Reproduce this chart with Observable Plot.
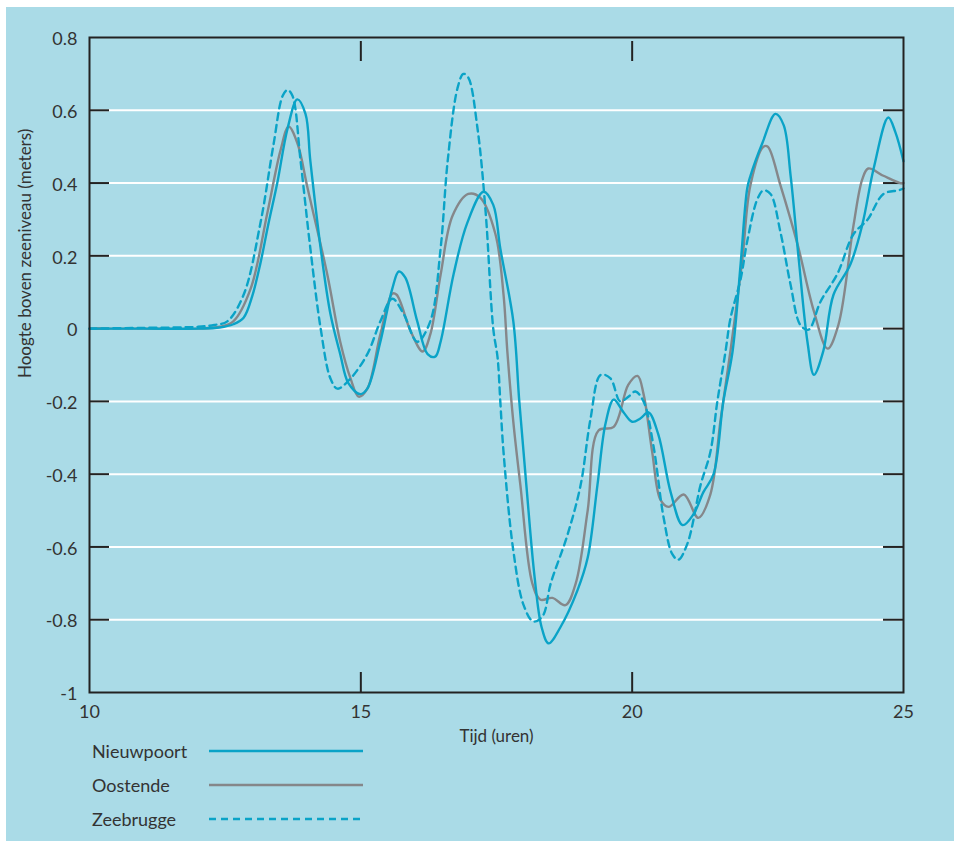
<!DOCTYPE html>
<html>
<head>
<meta charset="utf-8">
<script src="https://cdn.jsdelivr.net/npm/d3@7"></script>
<script src="https://cdn.jsdelivr.net/npm/@observablehq/plot@0.6"></script>
<style>
  html, body { margin: 0; padding: 0; background: #ffffff; }
  #wrap { position: absolute; left: 6px; top: 7px; width: 948px; height: 834px; background: #aadbe7; overflow: hidden; font-family: Lato, "Liberation Sans", sans-serif; }
  #chart svg { display: block; }
  #legend { margin-top: -18px; margin-left: 86px; }
  .row { display: flex; align-items: center; height: 34px; }
  .row span { width: 117px; font-size: 18px; color: #333; }
  .row svg { display: block; }
</style>
</head>
<body>
<div id="wrap">
  <div id="chart"></div>
  <div id="legend"></div>
</div>
<script>
// ---- data ----
const xTicks = [10, 15, 20, 25];
const xInnerTicks = [15, 20];
const yTicks = [-1, -0.8, -0.6, -0.4, -0.2, 0, 0.2, 0.4, 0.6, 0.8];
const gridValues = [-0.8, -0.6, -0.4, -0.2, 0, 0.2, 0.4, 0.6];
const seriesNames = ["Nieuwpoort", "Oostende", "Zeebrugge"];
const xLabel = "Tijd (uren)";
const yLabel = "Hoogte boven zeeniveau (meters)";

const nieuwpoortT = [10, 11, 12, 12.4, 12.65, 12.84, 13.0, 13.15, 13.3, 13.46, 13.65, 13.83, 13.98, 14.07, 14.26, 14.44, 14.62, 14.77, 14.99, 15.12, 15.36, 15.58, 15.70, 15.82, 16.04, 16.23, 16.37, 16.47, 16.71, 16.96, 17.26, 17.44, 17.57, 17.81, 17.92, 18.05, 18.2, 18.33, 18.46, 18.68, 18.99, 19.18, 19.36, 19.51, 19.66, 19.84, 20.0, 20.15, 20.30, 20.48, 20.71, 20.93, 21.13, 21.31, 21.50, 21.68, 21.85, 22.0, 22.12, 22.18, 22.40, 22.64, 22.79, 22.92, 23.07, 23.23, 23.35, 23.52, 23.71, 24.02, 24.24, 24.45, 24.72, 24.85, 25.0];
const nieuwpoortH = [0, 0, 0, 0.003, 0.012, 0.03, 0.09, 0.18, 0.29, 0.40, 0.55, 0.63, 0.59, 0.46, 0.22, 0.04, -0.07, -0.15, -0.18, -0.165, -0.036, 0.11, 0.157, 0.14, 0.02, -0.07, -0.077, -0.036, 0.15, 0.29, 0.376, 0.34, 0.22, 0.02, -0.2, -0.43, -0.68, -0.82, -0.865, -0.82, -0.72, -0.63, -0.43, -0.26, -0.195, -0.23, -0.256, -0.247, -0.23, -0.29, -0.45, -0.54, -0.51, -0.45, -0.40, -0.2, -0.063, 0.18, 0.385, 0.42, 0.51, 0.59, 0.56, 0.42, 0.19, -0.036, -0.127, -0.063, 0.093, 0.176, 0.285, 0.44, 0.58, 0.54, 0.46];

const oostendeT = [10, 11, 12, 12.4, 12.65, 12.97, 13.28, 13.52, 13.67, 13.83, 14.02, 14.38, 14.62, 14.81, 14.96, 15.12, 15.36, 15.58, 15.66, 15.92, 16.14, 16.28, 16.47, 16.69, 16.98, 17.2, 17.48, 17.63, 17.70, 17.81, 17.94, 18.16, 18.31, 18.53, 18.77, 18.96, 19.18, 19.38, 19.66, 19.93, 20.10, 20.21, 20.37, 20.52, 20.67, 20.95, 21.22, 21.44, 21.63, 21.81, 22.03, 22.18, 22.42, 22.5, 22.73, 23.05, 23.35, 23.60, 23.80, 24.08, 24.24, 24.35, 24.63, 24.94, 25.0];
const oostendeH = [0, 0, 0, 0.005, 0.02, 0.11, 0.32, 0.49, 0.555, 0.51, 0.385, 0.15, -0.036, -0.137, -0.187, -0.165, -0.016, 0.096, 0.093, -0.008, -0.063, -0.016, 0.148, 0.31, 0.37, 0.36, 0.26, 0.093, -0.063, -0.256, -0.43, -0.70, -0.745, -0.74, -0.76, -0.70, -0.50, -0.28, -0.27, -0.154, -0.13, -0.18, -0.34, -0.47, -0.49, -0.456, -0.52, -0.456, -0.25, -0.063, 0.19, 0.395, 0.50, 0.50, 0.395, 0.23, 0.047, -0.055, 0.01, 0.285, 0.41, 0.44, 0.42, 0.40, 0.40];

const zeebruggeT = [10, 11, 12, 12.3, 12.54, 12.84, 13.15, 13.39, 13.56, 13.65, 13.74, 13.89, 14.07, 14.26, 14.44, 14.57, 14.81, 15.12, 15.36, 15.58, 15.79, 16.04, 16.28, 16.47, 16.60, 16.78, 16.89, 16.98, 17.15, 17.30, 17.44, 17.52, 17.57, 17.63, 17.81, 18.0, 18.18, 18.35, 18.5, 18.81, 19.05, 19.23, 19.42, 19.60, 19.78, 19.93, 20.06, 20.21, 20.39, 20.58, 20.74, 20.85, 21.02, 21.26, 21.44, 21.57, 21.72, 21.81, 22.0, 22.12, 22.31, 22.42, 22.55, 22.73, 22.92, 23.10, 23.25, 23.47, 23.78, 24.08, 24.34, 24.63, 24.91, 25.0];
const zeebruggeH = [0, 0.002, 0.005, 0.01, 0.02, 0.093, 0.29, 0.505, 0.64, 0.656, 0.64, 0.46, 0.22, 0, -0.137, -0.165, -0.137, -0.07, 0.02, 0.082, 0.04, -0.036, 0.02, 0.22, 0.46, 0.66, 0.70, 0.69, 0.55, 0.32, 0, -0.08, -0.2, -0.34, -0.61, -0.76, -0.805, -0.79, -0.70, -0.566, -0.43, -0.25, -0.127, -0.137, -0.2, -0.187, -0.173, -0.2, -0.32, -0.52, -0.62, -0.635, -0.59, -0.43, -0.34, -0.2, -0.063, 0.027, 0.137, 0.24, 0.357, 0.38, 0.37, 0.267, 0.12, 0.01, -0.003, 0.074, 0.15, 0.26, 0.30, 0.37, 0.38, 0.385];

// ---- styling ----
const BLUE = "#0aa3c7";
const GRAY = "#85878a";
const INK = "#222";
const TXT = "#333";
const seriesStyles = [
  {stroke: BLUE, dash: null},
  {stroke: GRAY, dash: null},
  {stroke: BLUE, dash: "7,5"}
];

const W = 948, H = 745, mL = 83, mR = 51, mT = 30, mB = 60;
const pw = W - mL - mR, ph = H - mT - mB;

const nieuwpoort = d3.zip(nieuwpoortT, nieuwpoortH);
const oostende = d3.zip(oostendeT, oostendeH);
const zeebrugge = d3.zip(zeebruggeT, zeebruggeH);

const lineOpts = (st) => ({
  x: d => d[0], y: d => d[1],
  stroke: st.stroke, strokeWidth: 2.4,
  strokeDasharray: st.dash || undefined,
  curve: "catmull-rom"
});

const chart = Plot.plot({
  width: W, height: H,
  marginLeft: mL, marginRight: mR, marginTop: mT, marginBottom: mB,
  style: {background: "none", overflow: "visible", fontFamily: "Lato, 'Liberation Sans', sans-serif", color: TXT},
  x: {domain: [10, 25]},
  y: {domain: [-1, 0.8]},
  marks: [
    Plot.ruleY(gridValues, {y: d => d, stroke: "#ffffff", strokeWidth: 2}),
    Plot.tickY(gridValues, {y: d => d, stroke: INK, strokeWidth: 2, insetRight: pw - 20}),
    Plot.tickY(gridValues, {y: d => d, stroke: INK, strokeWidth: 2, insetLeft: pw - 20}),
    Plot.tickX(xInnerTicks, {x: d => d, stroke: INK, strokeWidth: 2, insetTop: 4, insetBottom: ph - 24}),
    Plot.tickX(xInnerTicks, {x: d => d, stroke: INK, strokeWidth: 2, insetTop: ph - 20}),
    Plot.line(oostende, lineOpts(seriesStyles[1])),
    Plot.line(zeebrugge, lineOpts(seriesStyles[2])),
    Plot.line(nieuwpoort, lineOpts(seriesStyles[0])),
    Plot.frame({stroke: INK, strokeWidth: 2}),
    Plot.axisX(xTicks, {tickSize: 0, tickPadding: 13, tickFormat: d => String(d), fontSize: 18, fill: TXT, label: null}),
    Plot.axisY(yTicks, {tickSize: 0, tickPadding: 12, tickFormat: d => String(d), fontSize: 18, fill: TXT, label: null, dy: 2}),
    Plot.text([xLabel], {frameAnchor: "bottom", dy: 49, fontSize: 17, fill: TXT}),
    Plot.text([yLabel], {frameAnchor: "left", rotate: -90, dx: -64, dy: 13, fontSize: 17, fill: TXT})
  ]
});
document.getElementById("chart").appendChild(chart);

// ---- legend (HTML, below the chart) ----
const legend = document.getElementById("legend");
seriesNames.forEach((name, i) => {
  const st = seriesStyles[i];
  const row = document.createElement("div");
  row.className = "row";
  const span = document.createElement("span");
  span.textContent = name;
  row.appendChild(span);
  const ns = "http://www.w3.org/2000/svg";
  const svg = document.createElementNS(ns, "svg");
  svg.setAttribute("width", 154);
  svg.setAttribute("height", 8);
  const ln = document.createElementNS(ns, "line");
  ln.setAttribute("x1", 0); ln.setAttribute("x2", 154);
  ln.setAttribute("y1", 4); ln.setAttribute("y2", 4);
  ln.setAttribute("stroke", st.stroke);
  ln.setAttribute("stroke-width", 2.6);
  if (st.dash) ln.setAttribute("stroke-dasharray", st.dash);
  svg.appendChild(ln);
  row.appendChild(svg);
  legend.appendChild(row);
});
</script>
</body>
</html>
